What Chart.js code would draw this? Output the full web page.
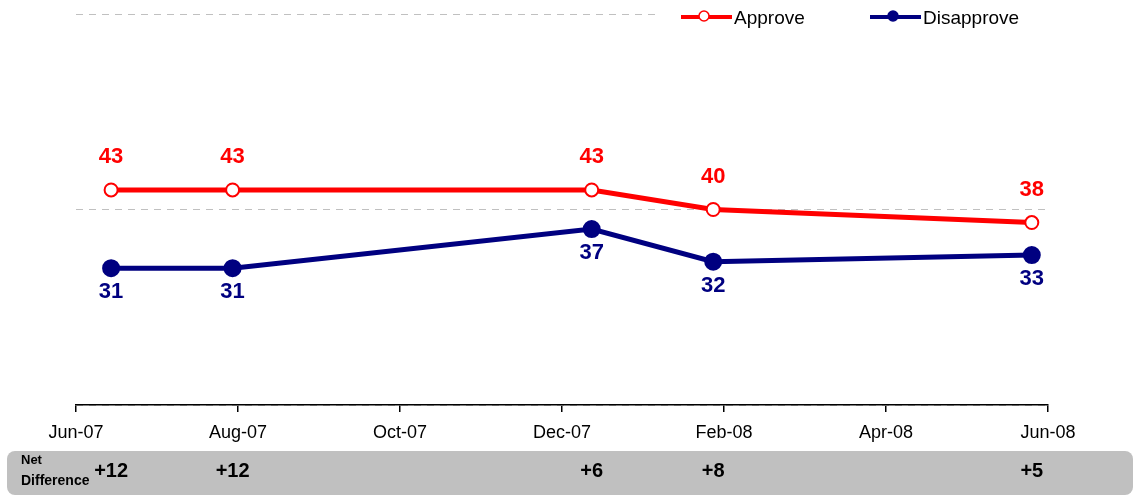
<!DOCTYPE html>
<html>
<head>
<meta charset="utf-8">
<script src="https://cdn.jsdelivr.net/npm/chart.js@4"></script>
<style>
  html, body { margin: 0; padding: 0; background: #fff; }
  #wrap { width: 1135px; height: 495px; position: relative; }
</style>
</head>
<body>
<div id="wrap"><canvas id="myChart" width="1135" height="495"></canvas></div>
<script>
// poll dates
var pollDates = ['2007-06-14', '2007-07-29', '2007-12-12', '2008-01-27', '2008-05-25'];
var approve = [43, 43, 43, 40, 38];
var disapprove = [31, 31, 37, 32, 33];
var netDiff = ['+12', '+12', '+6', '+8', '+5'];
var tickLabels = ['Jun-07', 'Aug-07', 'Oct-07', 'Dec-07', 'Feb-08', 'Apr-08', 'Jun-08'];

var RED = '#ff0000';
var NAVY = '#000080';
var FONT = '"Liberation Sans", Arial, sans-serif';

// months since Jun-07
function monthOffset(s) {
    var p = s.split('-');
    return (parseInt(p[0]) - 2007) * 12 + (parseInt(p[1]) - 6) + (parseInt(p[2]) - 1) / 30;
}

function points(vals) {
    return vals.map(function (v, i) { return { x: monthOffset(pollDates[i]), y: v }; });
}

var labelsPlugin = {
    id: 'extras',
    afterDatasetsDraw: function (chart) {
        var ctx = chart.ctx;
        ctx.save();
        ctx.textAlign = 'center';
        ctx.textBaseline = 'middle';
        ctx.font = 'bold 22px ' + FONT;
        chart.getDatasetMeta(0).data.forEach(function (pt, i) {
            ctx.fillStyle = RED;
            ctx.fillText(approve[i], pt.x, pt.y - 33);
        });
        chart.getDatasetMeta(1).data.forEach(function (pt, i) {
            ctx.fillStyle = NAVY;
            ctx.fillText(disapprove[i], pt.x, pt.y + 24);
        });
        ctx.restore();
    },
    afterDraw: function (chart) {
        var ctx = chart.ctx;
        ctx.save();
        // legend, white box covers the top grid line
        ctx.fillStyle = '#fff';
        ctx.fillRect(655, 2, 480, 30);
        var items = [
            { text: 'Approve', color: RED, fill: '#fff', x: 681 },
            { text: 'Disapprove', color: NAVY, fill: NAVY, x: 870 }
        ];
        items.forEach(function (it) {
            ctx.strokeStyle = it.color;
            ctx.lineWidth = 4;
            ctx.beginPath();
            ctx.moveTo(it.x, 17);
            ctx.lineTo(it.x + 51, 17);
            ctx.stroke();
            ctx.beginPath();
            ctx.arc(it.x + 23, 16, 5, 0, Math.PI * 2);
            ctx.fillStyle = it.fill;
            ctx.fill();
            ctx.lineWidth = 1.5;
            ctx.stroke();
            ctx.fillStyle = '#000';
            ctx.font = '19px ' + FONT;
            ctx.textAlign = 'left';
            ctx.textBaseline = 'middle';
            ctx.fillText(it.text, it.x + 53, 19);
        });

        // net difference band
        ctx.fillStyle = '#c0c0c0';
        ctx.beginPath();
        ctx.roundRect(7, 451, 1126, 44, 8);
        ctx.fill();
        ctx.fillStyle = '#000';
        ctx.textAlign = 'left';
        ctx.textBaseline = 'middle';
        ctx.font = 'bold 13px ' + FONT;
        ctx.fillText('Net', 21, 460);
        ctx.font = 'bold 14px ' + FONT;
        ctx.fillText('Difference', 21, 481);
        ctx.textAlign = 'center';
        ctx.font = 'bold 20px ' + FONT;
        var xs = chart.scales.x;
        netDiff.forEach(function (t, i) {
            ctx.fillText(t, xs.getPixelForValue(monthOffset(pollDates[i])), 471);
        });
        ctx.restore();
    }
};

var ctx = document.getElementById('myChart').getContext('2d');
var chart = new Chart(ctx, {
    type: 'line',
    data: {
        datasets: [{
            label: 'Approve',
            data: points(approve),
            borderColor: RED,
            backgroundColor: '#fff',
            borderWidth: 5,
            pointRadius: 6.5,
            pointBorderWidth: 2,
            pointBackgroundColor: '#fff',
            pointBorderColor: RED,
            tension: 0
        }, {
            label: 'Disapprove',
            data: points(disapprove),
            borderColor: NAVY,
            backgroundColor: NAVY,
            borderWidth: 5,
            pointRadius: 6.5,
            pointBackgroundColor: NAVY,
            pointBorderColor: NAVY,
            tension: 0
        }]
    },
    options: {
        responsive: false,
        animation: false,
        layout: { padding: { left: 76, right: 87, top: 14, bottom: 0 } },
        plugins: {
            legend: { display: false },
            tooltip: { enabled: false }
        },
        scales: {
            x: {
                type: 'linear',
                min: 0,
                max: 12,
                afterFit: function (s) { s.height = 90; },
                afterBuildTicks: function (s) {
                    s.ticks = tickLabels.map(function (t, i) { return { value: i * 2 }; });
                },
                ticks: {
                    callback: function (v) { return tickLabels[v / 2]; },
                    color: '#000',
                    font: { family: FONT, size: 18 },
                    padding: 10,
                    maxRotation: 0,
                    autoSkip: false
                },
                grid: {
                    drawOnChartArea: false,
                    drawTicks: true,
                    tickLength: 7,
                    color: '#000',
                    lineWidth: 1.5
                },
                border: { display: true, color: '#000', width: 1.5 }
            },
            y: {
                min: 10,
                max: 70,
                ticks: { display: false, stepSize: 30 },
                grid: {
                    drawTicks: false,
                    color: '#c0c0c0',
                    lineWidth: 1
                },
                border: { display: false, dash: [7, 6] }
            }
        }
    },
    plugins: [labelsPlugin]
});
</script>
</body>
</html>
